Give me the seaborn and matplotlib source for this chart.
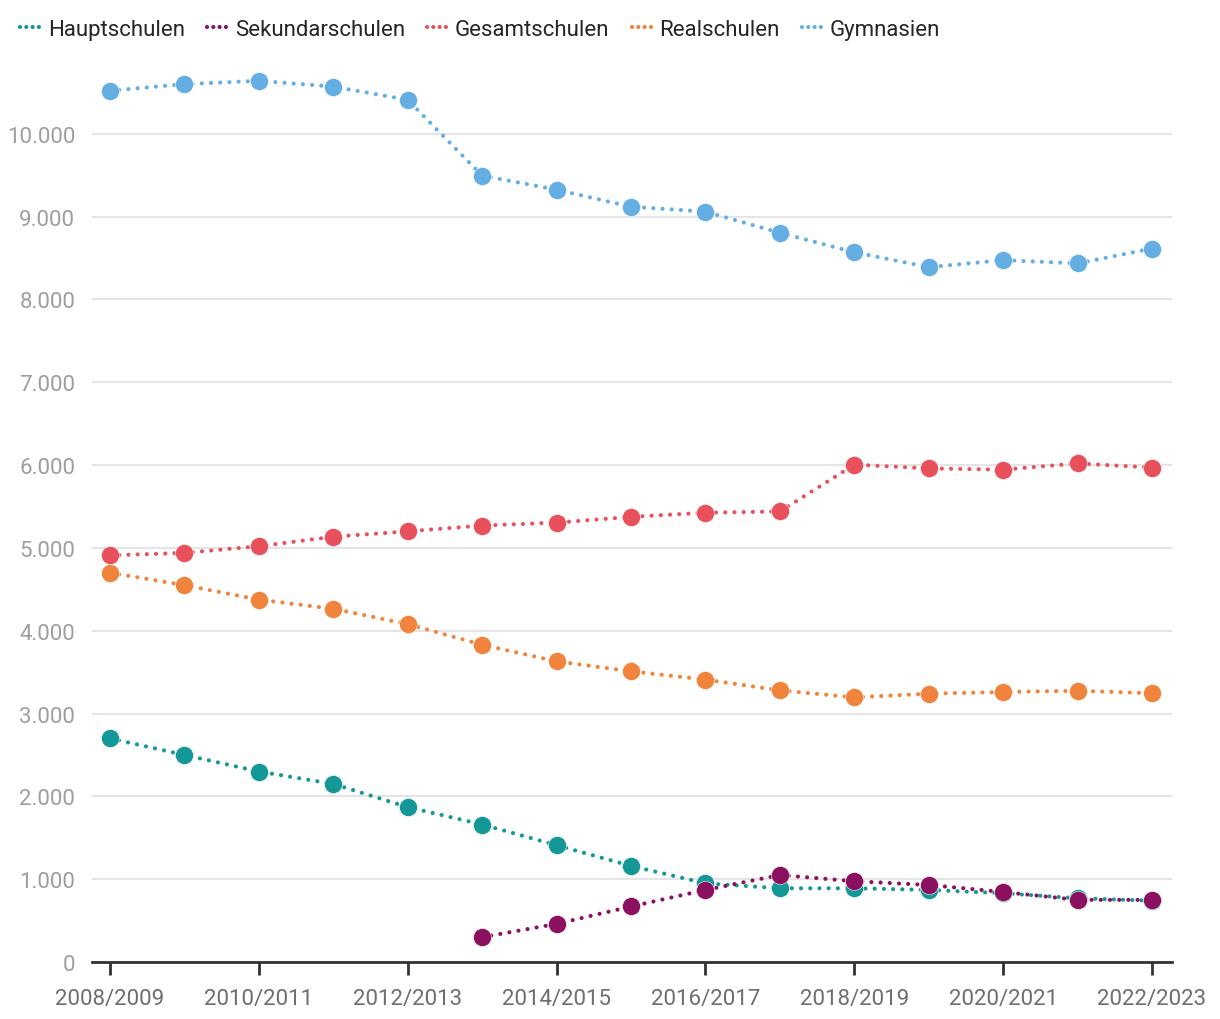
import matplotlib
matplotlib.use("Agg")
import matplotlib.pyplot as plt
from matplotlib.lines import Line2D
from matplotlib.ticker import FuncFormatter
import numpy as np
import pandas as pd
import seaborn as sns

# school years
jahre = ["2008/2009", "2009/2010", "2010/2011", "2011/2012", "2012/2013",
         "2013/2014", "2014/2015", "2015/2016", "2016/2017", "2017/2018",
         "2018/2019", "2019/2020", "2020/2021", "2021/2022", "2022/2023"]

hauptschulen = [2700, 2500, 2300, 2150, 1870, 1660, 1410, 1160, 950, 890,
                890, 870, 830, 770, 740]
sekundarschulen = [np.nan, np.nan, np.nan, np.nan, np.nan, 300, 460, 670,
                   870, 1050, 975, 930, 845, 750, 750]
gesamtschulen = [4910, 4940, 5020, 5135, 5200, 5270, 5305, 5375, 5425, 5440,
                 6005, 5960, 5945, 6020, 5970]
realschulen = [4700, 4550, 4375, 4265, 4080, 3830, 3630, 3510, 3410, 3280,
               3195, 3240, 3260, 3275, 3245]
gymnasien = [10520, 10600, 10640, 10570, 10410, 9495, 9325, 9120, 9060, 8805,
             8570, 8390, 8475, 8435, 8615]

namen = ["Hauptschulen", "Sekundarschulen", "Gesamtschulen", "Realschulen", "Gymnasien"]
farben = ["#149797", "#8c1060", "#e8505b", "#f0843c", "#64aee3"]

df = pd.DataFrame({"Hauptschulen": hauptschulen, "Sekundarschulen": sekundarschulen,
                   "Gesamtschulen": gesamtschulen, "Realschulen": realschulen,
                   "Gymnasien": gymnasien})
df["idx"] = range(len(jahre))
long = df.melt(id_vars="idx", var_name="schule", value_name="wert").dropna()

sns.set_style("white")
plt.rcParams["font.family"] = ["Roboto", "DejaVu Sans"]
plt.rcParams["lines.dotted_pattern"] = [0.01, 2.2]
plt.rcParams["lines.dash_capstyle"] = "round"

fig = plt.figure(figsize=(12.2, 10.2), dpi=100)
ax = fig.add_axes([0.0754, 0.0559, 0.8853, 0.885])

sns.lineplot(data=long, x="idx", y="wert", hue="schule", hue_order=namen,
             palette=farben, marker="o", markersize=13, markeredgecolor="white",
             markeredgewidth=0.4, linestyle=":", linewidth=3, legend=False, ax=ax)

ax.set_xlim(-0.242, 14.269)
ax.set_ylim(0, 10900)
ax.set_yticks(range(0, 11000, 1000))
ax.yaxis.set_major_formatter(FuncFormatter(lambda v, p: f"{int(v):,}".replace(",", ".")))
ax.set_xticks(range(0, len(jahre), 2))
ax.set_xticklabels(jahre[::2])
ax.set_xlabel("")
ax.set_ylabel("")

ax.grid(axis="y", color="#e5e5e5", linewidth=1.5)
ax.set_axisbelow(True)
for s in ["top", "right", "left"]:
    ax.spines[s].set_visible(False)
ax.spines["bottom"].set_color("#333333")
ax.spines["bottom"].set_linewidth(2)
ax.tick_params(axis="x", bottom=True, length=9, width=2, color="#333333",
               labelcolor="#6e6e6e", labelsize=16, pad=10)
ax.tick_params(axis="y", left=False, length=0, labelcolor="#9e9e9e", labelsize=16, pad=12)

handles = [Line2D([0], [0], color=c, linewidth=3, dashes=(0.01, 1.5),
                  dash_capstyle="round") for c in farben]
fig.legend(handles, namen, loc="upper left", bbox_to_anchor=(0.0, 1.0), ncol=5,
           frameon=False, fontsize=16, handlelength=0.9, handletextpad=0.35,
           columnspacing=1.0, borderaxespad=0.5)

fig.savefig("out.png", dpi=100)
